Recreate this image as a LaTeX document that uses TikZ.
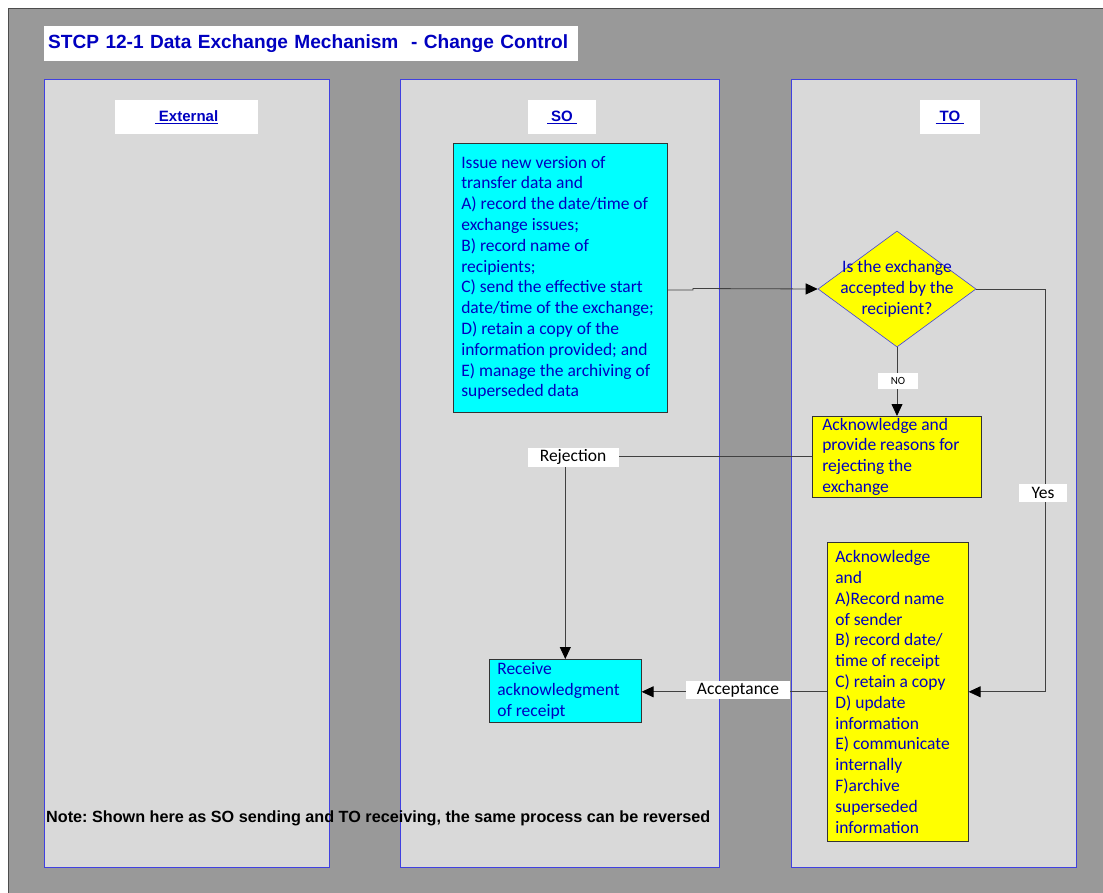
\documentclass[tikz,border=0pt]{standalone}
\usepackage{fontspec}
\setmainfont{Carlito}
\newfontfamily\arialfont{Liberation Sans}
\usetikzlibrary{shapes.geometric,arrows.meta}
\definecolor{lanegray}{RGB}{217,217,217}
\definecolor{backgray}{RGB}{153,153,153}
\definecolor{laneblue}{RGB}{64,64,224}
\definecolor{textblue}{RGB}{0,0,192}
\definecolor{boxcyan}{RGB}{0,255,255}
\definecolor{boxyellow}{RGB}{255,255,0}
\frenchspacing

\begin{document}
\begin{tikzpicture}[x=1pt,y=-1pt,
    lane/.style={draw=laneblue,fill=lanegray,line width=0.8pt},
    header/.style={fill=white,minimum height=34pt,inner sep=0pt,text=textblue,
        font=\arialfont\bfseries\fontsize{15}{17}\selectfont},
    proc/.style={draw=black!80,line width=0.6pt,inner ysep=0pt,text=textblue,
        align=flush left,anchor=north west,font=\fontsize{17.5}{20.8}\selectfont},
    decision/.style={diamond,draw=laneblue,fill=boxyellow,line width=0.6pt,
        minimum width=158pt,minimum height=116pt,inner sep=0pt},
    tag/.style={fill=white,inner sep=0pt,font=\fontsize{17.5}{20}\selectfont},
    arr/.style={draw=black!75,line width=0.8pt,
        -{Triangle[length=12pt,width=11pt,color=black]}}]

    \useasboundingbox (0,0) rectangle (1103,893);

    % Fondo e corsie
    \fill[backgray] (8,8) rectangle (1103,893);
    \draw[black!70,line width=0.8pt] (8,893) -- (8,8) -- (1103,8);
    \foreach \xa/\xb in {44/329,400/719,791/1076}{
        \draw[lane] (\xa,79) rectangle (\xb,867);
    }

    % Titolo
    \node[fill=white,anchor=west,text width=526pt,minimum height=35pt,inner xsep=4pt,
        text=textblue,font=\arialfont\bfseries\fontsize{19.1}{21}\selectfont]
        (title) at (44,44) {STCP 12-1 Data Exchange Mechanism \ - Change Control};

    % Intestazioni
    \node[header,minimum width=143pt] (hext) at (186.5,117) {\underline{\ External}};
    \node[header,minimum width=68pt] (hso) at (562,117) {\underline{\ SO\ }};
    \node[header,minimum width=60pt] (hto) at (950,117) {\underline{\ TO\ }};

    % Blocchi SO
    \node[proc,fill=boxcyan,inner xsep=8pt,text width=198pt,minimum height=269pt]
        (issue) at (453,143) {Issue new version of\\transfer data and\\
        A) record the date/time of\\exchange issues;\\B) record name of\\
        recipients;\\C) send the effective start\\date/time of the exchange;\\
        D) retain a copy of the\\information provided; and\\
        E) manage the archiving of\\superseded data};
    \node[proc,fill=boxcyan,inner xsep=8pt,text width=136pt,minimum height=63pt]
        (receive) at (489,659) {Receive\\acknowledgment\\of receipt};

    % Blocchi TO
    \node[decision] (accept) at (897,289) {};
    \node[text=textblue,align=center,font=\fontsize{17.5}{21}\selectfont]
        (accepttext) at (accept.center) {Is the exchange\\accepted by the\\recipient?};
    \node[proc,fill=boxyellow,inner xsep=10pt,text width=149pt,minimum height=81pt]
        (reject) at (812,416) {Acknowledge and\\provide reasons for\\rejecting the\\exchange};
    \node[proc,fill=boxyellow,inner xsep=8pt,text width=125pt,minimum height=299pt]
        (ackn) at (827,542) {Acknowledge\\and\\A)Record name\\of sender\\
        B) record date/\\time of receipt\\C) retain a copy\\D) update\\information\\
        E) communicate\\internally\\F)archive\\superseded\\information};

    % Collegamenti
    \coordinate (jog) at (693,290);
    \coordinate (yesturn) at (1045,289);
    \draw[arr] (issue.east |- jog) -- (jog) -- ++(0,-1.5) -- (accept.west);
    \draw[arr] (accept.south) -- (accept.south |- reject.north);
    \draw[arr] (reject.west) -| (receive.north);
    \draw[arr] (accept.east) -- (yesturn) |- (ackn.east);
    \draw[arr] (ackn.west) -- (ackn.west -| receive.east);

    % Etichette
    \node[tag,minimum width=40pt,minimum height=16pt,font=\fontsize{11}{12}\selectfont]
        (lblno) at (898,381) {NO};
    \node[tag,minimum width=91pt,minimum height=19pt] (lblrej) at (573,457) {Rejection};
    \node[tag,minimum width=48pt,minimum height=18pt] (lblyes) at (1043,493) {Yes};
    \node[tag,minimum width=104pt,minimum height=18pt] (lblacc) at (738,690) {Acceptance};

    % Nota
    \node[anchor=west,inner sep=0pt,font=\arialfont\bfseries\fontsize{16.2}{18}\selectfont]
        (note) at (46,818) {Note: Shown here as SO sending and TO receiving, the same process can be reversed};

\end{tikzpicture}
\end{document}
